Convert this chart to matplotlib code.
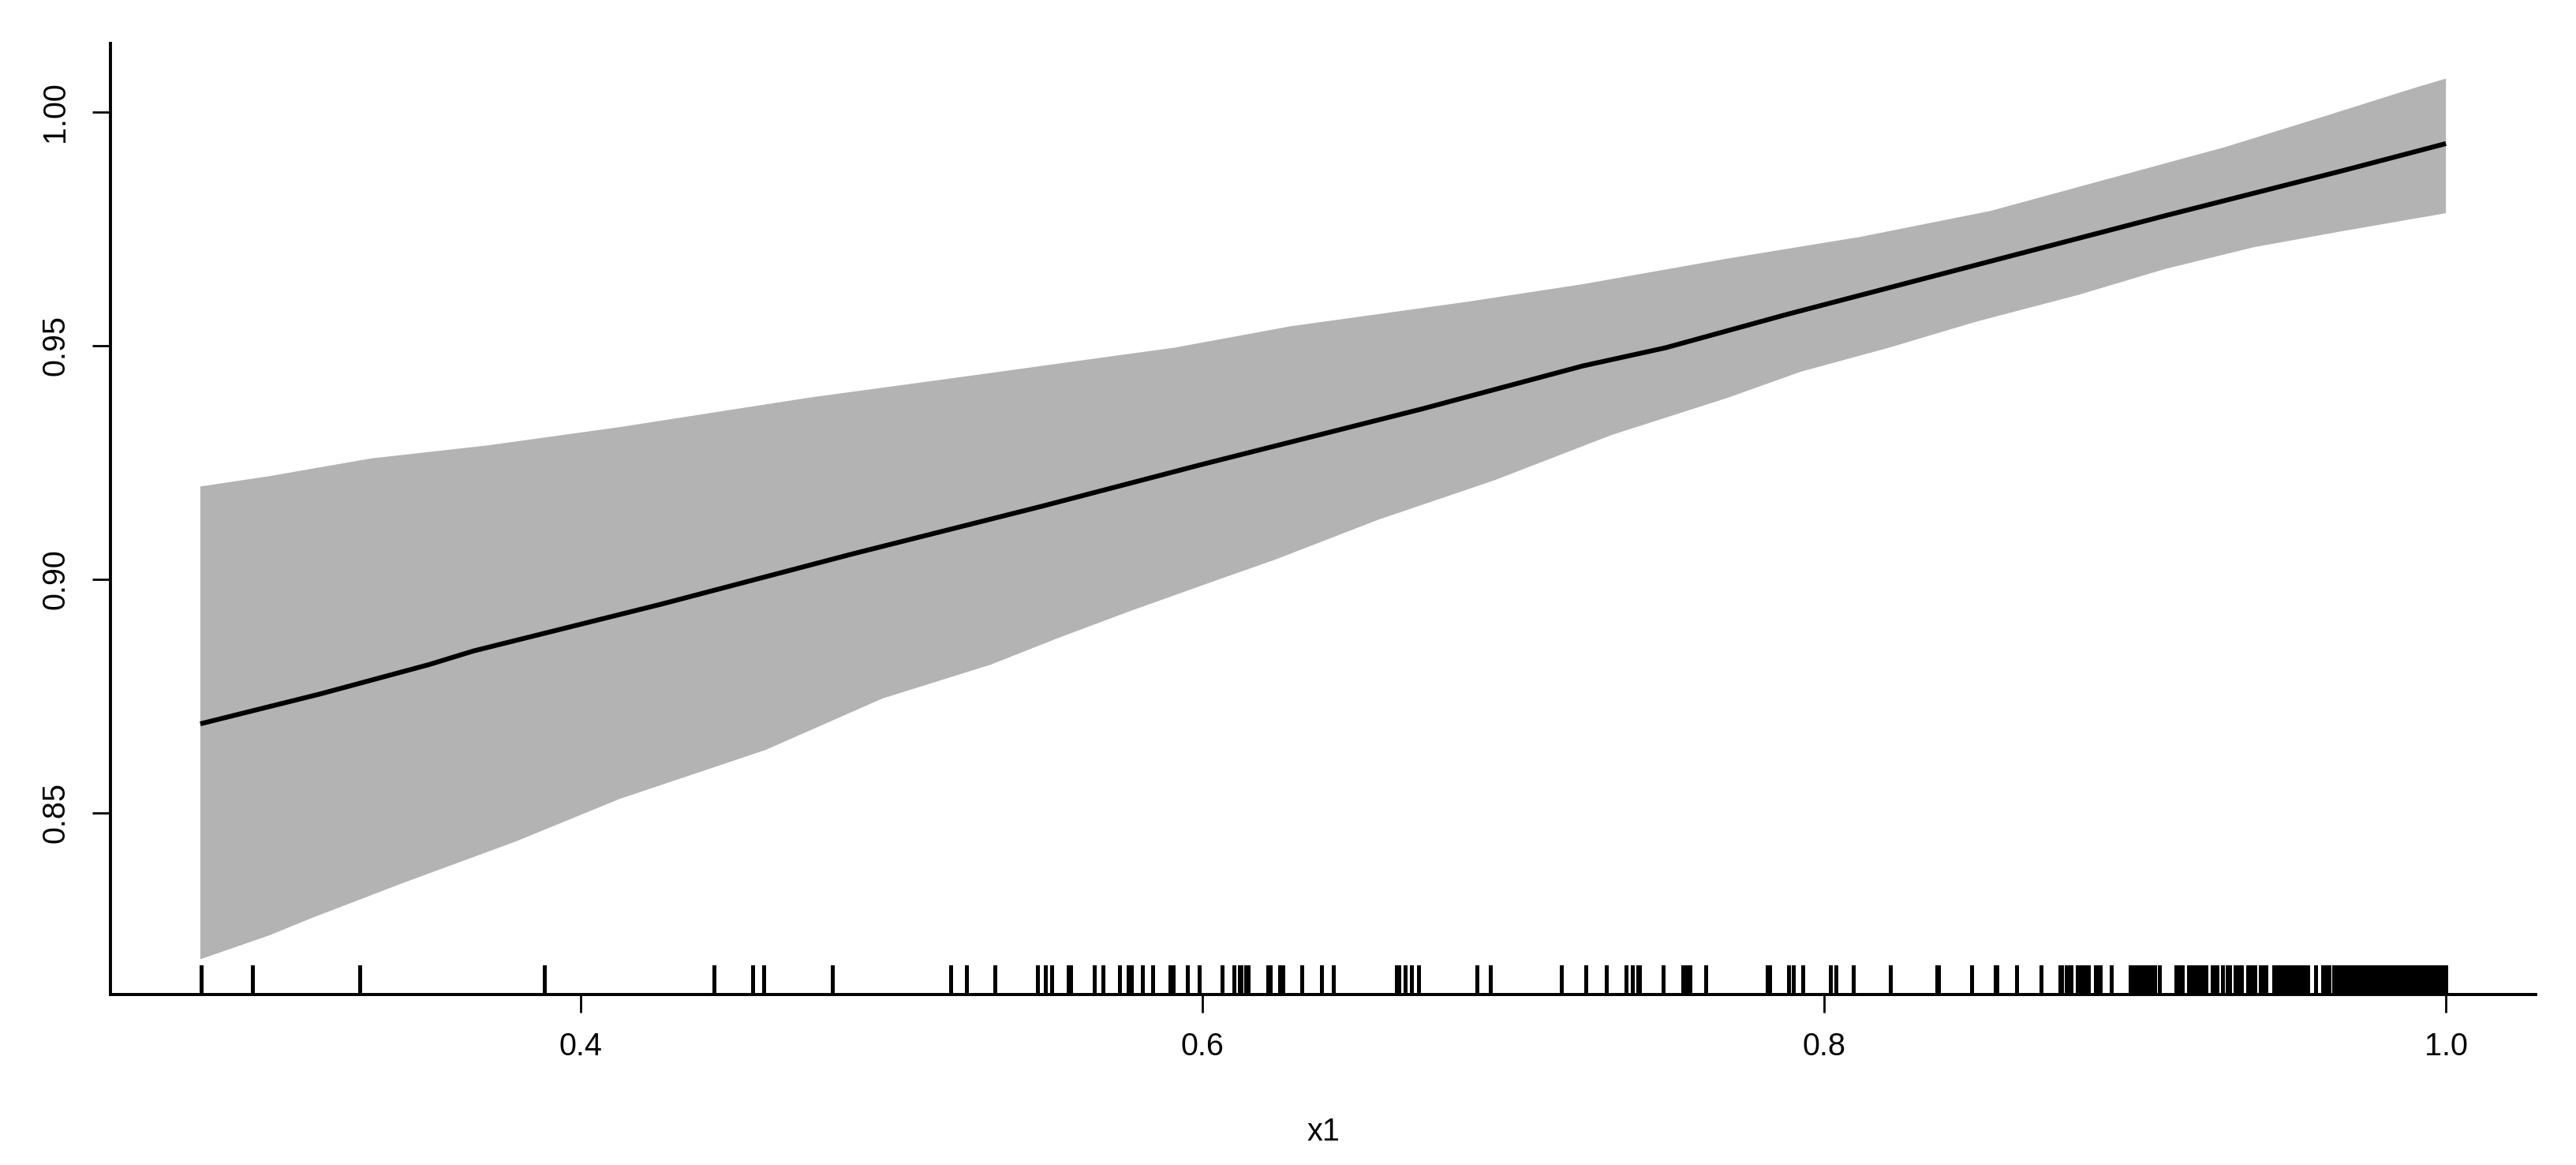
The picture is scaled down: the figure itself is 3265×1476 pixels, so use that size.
import numpy as np
import matplotlib
matplotlib.use("Agg")
import matplotlib.pyplot as plt
import matplotlib.transforms as mtransforms

plt.rcParams["font.family"] = ["Liberation Sans", "DejaVu Sans"]

# fitted effect of x1 with pointwise band
fit_x = [0.2776, 0.3162, 0.3513, 0.3655, 0.4264, 0.4876, 0.5485, 0.6003,
         0.6706, 0.7223, 0.7490, 0.7878, 0.8442, 0.9099, 0.9662, 1.0000]
fit_y = [0.8690, 0.8754, 0.8817, 0.8846, 0.8947, 0.9054, 0.9156, 0.9246,
         0.9364, 0.9456, 0.9495, 0.9566, 0.9664, 0.9778, 0.9873, 0.9932]

upper_x = [0.2776, 0.2997, 0.3325, 0.3701, 0.4124, 0.4733, 0.5297, 0.5721,
           0.5909, 0.6284, 0.6848, 0.7223, 0.7690, 0.8114, 0.8536, 0.8817,
           0.9287, 0.9617, 0.9898, 1.0000]
upper_y = [0.9198, 0.9220, 0.9258, 0.9286, 0.9325, 0.9388, 0.9439, 0.9478,
           0.9495, 0.9541, 0.9593, 0.9631, 0.9686, 0.9732, 0.9788, 0.9839,
           0.9924, 0.9992, 1.0051, 1.0071]

lower_x = [0.2776, 0.2997, 0.3137, 0.3419, 0.3794, 0.4124, 0.4594, 0.4970,
           0.5320, 0.5533, 0.5766, 0.6048, 0.6236, 0.6566, 0.6942, 0.7315,
           0.7690, 0.7926, 0.8208, 0.8490, 0.8817, 0.9099, 0.9381, 0.9662,
           1.0000]
lower_y = [0.8186, 0.8237, 0.8275, 0.8347, 0.8439, 0.8529, 0.8634, 0.8744,
           0.8817, 0.8873, 0.8931, 0.8998, 0.9042, 0.9127, 0.9212, 0.9308,
           0.9388, 0.9444, 0.9495, 0.9551, 0.9608, 0.9664, 0.9710, 0.9744,
           0.9783]

# observed x1 values (rug)
rug_x = [0.2778, 0.2945, 0.3290, 0.3883, 0.4428, 0.4553, 0.4589, 0.4809,
         0.5189, 0.5240, 0.5333, 0.5470, 0.5494, 0.5514, 0.5568, 0.5576,
         0.5651, 0.5681, 0.5732, 0.5762, 0.5771, 0.5807, 0.5839, 0.5895,
         0.5907, 0.5952, 0.5989, 0.6063, 0.6101, 0.6119, 0.6124, 0.6140,
         0.6146, 0.6211, 0.6219, 0.6248, 0.6258, 0.6319, 0.6382, 0.6420,
         0.6623, 0.6632, 0.6651, 0.6671, 0.6694, 0.6882, 0.6925, 0.7155,
         0.7232, 0.7300, 0.7362, 0.7382, 0.7400, 0.7406, 0.7481, 0.7545,
         0.7555, 0.7568, 0.7620, 0.7817, 0.7825, 0.7885, 0.7900, 0.7931,
         0.8019, 0.8037, 0.8094, 0.8212, 0.8362, 0.8368, 0.8473, 0.8550,
         0.8556, 0.8618, 0.8698,
         0.8759, 0.8764, 0.8779, 0.8787, 0.8794, 0.8815, 0.8820, 0.8827,
         0.8838, 0.8849, 0.8873, 0.8881, 0.8888, 0.8923, 0.8985, 0.8989,
         0.8997, 0.9005, 0.9013, 0.9022, 0.9030, 0.9040, 0.9047, 0.9055,
         0.9063, 0.9079, 0.9132, 0.9142, 0.9152, 0.9171, 0.9186, 0.9194,
         0.9209, 0.9219, 0.9229, 0.9248, 0.9258, 0.9263, 0.9281, 0.9297,
         0.9304, 0.9322, 0.9329, 0.9339, 0.9343, 0.9363, 0.9370, 0.9382,
         0.9386, 0.9404, 0.9414, 0.9420, 0.9446, 0.9453, 0.9461, 0.9469,
         0.9476, 0.9484, 0.9492, 0.9495, 0.9503, 0.9510, 0.9518, 0.9525,
         0.9533, 0.9541, 0.9548, 0.9555, 0.9580, 0.9603, 0.9611, 0.9619,
         0.9624, 0.9639, 0.9646, 0.9654, 0.9662, 0.9669, 0.9672, 0.9678,
         0.9686, 0.9694, 0.9701, 0.9709, 0.9717, 0.9720, 0.9728, 0.9732,
         0.9739, 0.9747, 0.9755, 0.9762, 0.9770, 0.9776, 0.9785, 0.9792,
         0.9799, 0.9806, 0.9813, 0.9820, 0.9827, 0.9834, 0.9841, 0.9848,
         0.9855, 0.9862, 0.9869, 0.9876, 0.9883, 0.9890, 0.9897, 0.9904,
         0.9911, 0.9918, 0.9925, 0.9932, 0.9939, 0.9946, 0.9953, 0.9960,
         0.9967, 0.9974, 0.9981, 0.9992, 1.0000]

x_ticks = [0.4, 0.6, 0.8, 1.0]
x_ticklabels = ["0.4", "0.6", "0.8", "1.0"]
y_ticks = [0.85, 0.90, 0.95, 1.00]
y_ticklabels = ["0.85", "0.90", "0.95", "1.00"]

fig = plt.figure(figsize=(32.66, 14.76), dpi=100)
ax = fig.add_axes([0.04287, 0.14634, 0.98408 - 0.04287, 0.96274 - 0.14634])

# band polygon: upper edge left to right, lower edge back
band_x = upper_x + lower_x[::-1]
band_y = upper_y + lower_y[::-1]
ax.fill(band_x, band_y, color="#b3b3b3", linewidth=0)
ax.plot(fit_x, fit_y, color="black", lw=4.4, solid_capstyle="butt")

# rug along the bottom, like R's rug()
trans = mtransforms.blended_transform_factory(ax.transData, ax.transAxes)
ax.vlines(rug_x, 0, 0.031, transform=trans, color="black", lw=2.2,
          antialiased=False)

# R style 4% padding on the limits
xmin, xmax = min(fit_x), max(fit_x)
ymin, ymax = min(lower_y), max(upper_y)
ax.set_xlim(xmin - 0.04 * (xmax - xmin), xmax + 0.04 * (xmax - xmin))
ax.set_ylim(ymin - 0.04 * (ymax - ymin), ymax + 0.04 * (ymax - ymin))

for s in ["top", "right"]:
    ax.spines[s].set_visible(False)
for s in ["left", "bottom"]:
    ax.spines[s].set_linewidth(2.8)

ax.set_xticks(x_ticks)
ax.set_xticklabels(x_ticklabels)
ax.set_yticks(y_ticks)
ax.set_yticklabels(y_ticklabels, rotation=90, va="center")
ax.tick_params(axis="both", direction="out", length=16.5, width=2.0,
               labelsize=28.5)
ax.tick_params(axis="x", pad=17)
ax.tick_params(axis="y", pad=20)
ax.set_xlabel("x1", fontsize=28.5, labelpad=51)

fig.savefig("out.png", dpi=100, facecolor="white")
